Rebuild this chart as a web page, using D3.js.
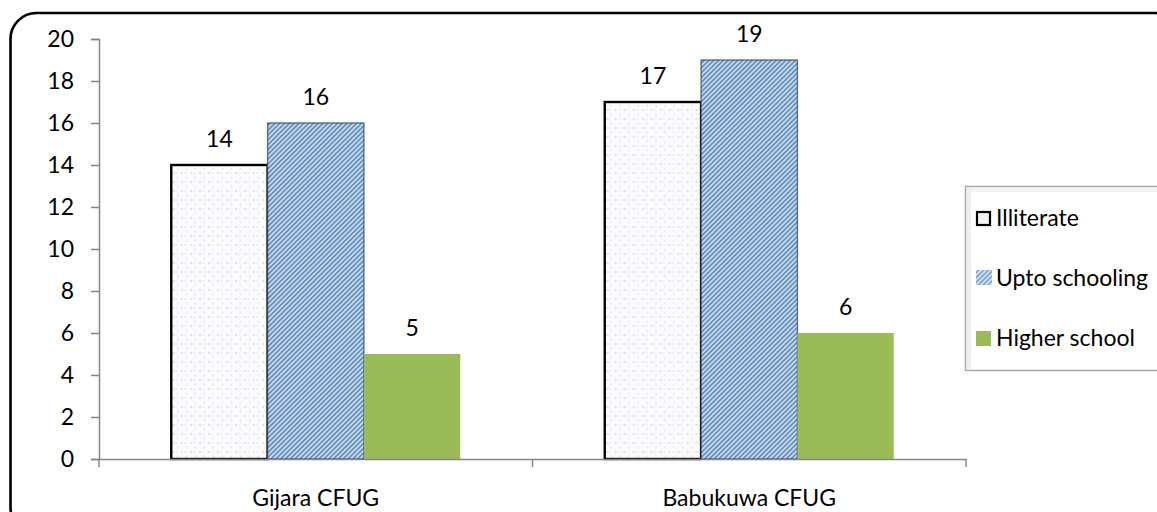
<!DOCTYPE html>
<html>
<head>
<meta charset="utf-8">
<script src="https://cdn.jsdelivr.net/npm/d3@7"></script>
<style>
  html, body { margin: 0; padding: 0; background: #ffffff; }
  svg { display: block; }
  text { font-family: Lato, "Open Sans", sans-serif; fill: #000; }
</style>
</head>
<body>
<script>
// Education level by community forest user group
const categories = ["Gijara CFUG", "Babukuwa CFUG"];
const seriesNames = ["Illiterate", "Upto schooling", "Higher school"];
const illiterate = [14, 17];
const uptoSchooling = [16, 19];
const higherSchool = [5, 6];
const yTicks = [0, 2, 4, 6, 8, 10, 12, 14, 16, 18, 20];

const seriesValues = [illiterate, uptoSchooling, higherSchool];

const W = 1157, H = 512;
const FONT = 23;
const svg = d3.select("body").append("svg").attr("width", W).attr("height", H);
const defs = svg.append("defs");

// Dotted fill for the illiterate bars
const dots = defs.append("pattern")
  .attr("id", "pat-dots").attr("patternUnits", "userSpaceOnUse")
  .attr("width", 9).attr("height", 9);
dots.append("rect").attr("width", 9).attr("height", 9).attr("fill", "#fbfbfd");
dots.append("circle").attr("cx", 2).attr("cy", 2).attr("r", 1.1).attr("fill", "#d9dce4");
dots.append("circle").attr("cx", 6.5).attr("cy", 6.5).attr("r", 0.9).attr("fill", "#e0e3ea");
dots.append("rect").attr("x", 4).attr("y", 1.6).attr("width", 2.5).attr("height", 0.8).attr("fill", "#e4e6ec");

// Diagonal hatching for the "upto schooling" bars
const hatch = defs.append("pattern")
  .attr("id", "pat-hatch").attr("patternUnits", "userSpaceOnUse")
  .attr("width", 3.4).attr("height", 10)
  .attr("patternTransform", "rotate(45)");
hatch.append("rect").attr("width", 3.4).attr("height", 10).attr("fill", "#c2daf0");
hatch.append("rect").attr("x", 0).attr("width", 1.5).attr("height", 10).attr("fill", "#5f86b3");

const fills = ["url(#pat-dots)", "url(#pat-hatch)", "#9bbb59"];

// Outer rounded frame
svg.append("rect")
  .attr("x", 10.5).attr("y", 13).attr("width", 1170).attr("height", 520)
  .attr("rx", 26).attr("ry", 26)
  .attr("fill", "none").attr("stroke", "#000").attr("stroke-width", 2.6);

// Scales
const plotLeft = 99, plotRight = 966, plotTop = 39, plotBottom = 459;
const y = d3.scaleLinear().domain([0, 20]).range([plotBottom, plotTop]);
const x0 = d3.scaleBand().domain(categories).range([plotLeft, plotRight]).padding(0);
const x1 = d3.scaleBand().domain(seriesNames).range([0, x0.bandwidth()])
  .paddingInner(0).paddingOuter(0.75);

// Bars
const groups = svg.append("g").selectAll("g")
  .data(categories).join("g")
  .attr("transform", d => `translate(${x0(d)},0)`);

groups.each(function(cat, ci) {
  const g = d3.select(this);
  seriesNames.forEach((s, si) => {
    const v = seriesValues[si][ci];
    const r = g.append("rect")
      .attr("x", x1(s)).attr("y", y(v))
      .attr("width", x1.bandwidth()).attr("height", y(0) - y(v))
      .attr("fill", fills[si]);
    if (si === 0) {
      r.attr("stroke", "#000").attr("stroke-width", 2.4);
    } else if (si === 1) {
      r.attr("stroke", "#33475e").attr("stroke-opacity", 0.75).attr("stroke-width", 1.4);
    }
  });
  // Value labels
  seriesNames.forEach((s, si) => {
    const v = seriesValues[si][ci];
    g.append("text")
      .attr("x", x1(s) + x1.bandwidth() / 2)
      .attr("y", y(v) - 18)
      .attr("text-anchor", "middle")
      .attr("font-size", FONT)
      .text(v);
  });
});

// Y axis
const yAxis = svg.append("g")
  .attr("transform", `translate(${plotLeft},0)`)
  .call(d3.axisLeft(y).tickValues(yTicks).tickSize(8).tickPadding(17));
yAxis.select(".domain").attr("stroke", "#868686").attr("stroke-width", 1.5);
yAxis.selectAll(".tick line").attr("stroke", "#868686").attr("stroke-width", 1.5);
yAxis.selectAll(".tick text").attr("font-size", FONT).attr("font-family", "Lato, sans-serif").attr("fill", "#000");

// X axis
const xAxis = svg.append("g")
  .attr("transform", `translate(0,${plotBottom})`)
  .call(d3.axisBottom(x0).tickSize(0).tickPadding(31));
xAxis.select(".domain").attr("stroke", "#868686").attr("stroke-width", 1.5);
xAxis.selectAll(".tick text").attr("font-size", FONT).attr("font-family", "Lato, sans-serif").attr("fill", "#000");
// Category separators below the axis
const boundaries = [plotLeft, plotLeft + x0.bandwidth(), plotRight];
xAxis.append("g").selectAll("line").data(boundaries).join("line")
  .attr("x1", d => d).attr("x2", d => d)
  .attr("y1", 0).attr("y2", 8)
  .attr("stroke", "#868686").attr("stroke-width", 1.5);

// Legend
const legend = svg.append("g").attr("transform", "translate(965,186)");
legend.append("rect")
  .attr("x", 0.5).attr("y", 0.5).attr("width", 240).attr("height", 184)
  .attr("fill", "#ffffff").attr("stroke", "#a9a9a9").attr("stroke-width", 1.5);
legend.append("rect")
  .attr("x", 2).attr("y", 2).attr("width", 238).attr("height", 4)
  .attr("fill", "#f1f2f5");
legend.append("rect")
  .attr("x", 2).attr("y", 2).attr("width", 4).attr("height", 181)
  .attr("fill", "#eceef2");

const rowY = [32, 92, 152];
seriesNames.forEach((s, i) => {
  const row = legend.append("g").attr("transform", `translate(0,${rowY[i]})`);
  if (i === 0) {
    row.append("rect").attr("x", 12).attr("y", -6).attr("width", 13).attr("height", 13)
      .attr("fill", "#f4f4f4").attr("stroke", "#000").attr("stroke-width", 2.2);
  } else if (i === 1) {
    row.append("rect").attr("x", 11).attr("y", -8).attr("width", 16).attr("height", 15)
      .attr("fill", fills[1]).attr("opacity", 0.8);
  } else {
    row.append("rect").attr("x", 11).attr("y", -7).attr("width", 15).attr("height", 15)
      .attr("fill", fills[2]);
  }
  row.append("text").attr("x", 31).attr("y", 8)
    .attr("font-size", FONT).text(s);
});
</script>
</body>
</html>
